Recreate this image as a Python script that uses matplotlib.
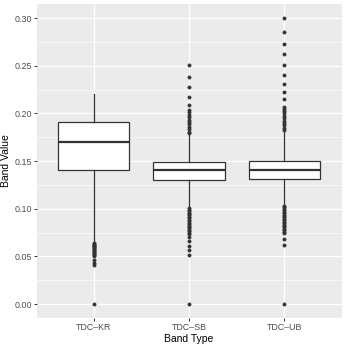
import matplotlib
matplotlib.use("Agg")
import matplotlib.pyplot as plt

categories = ["TDC\u2013KR", "TDC\u2013SB", "TDC\u2013UB"]
whisker_low = [0.0655, 0.1015, 0.1040]
q1 = [0.1405, 0.1300, 0.1312]
median = [0.1700, 0.1406, 0.1409]
q3 = [0.1912, 0.1493, 0.1500]
whisker_high = [0.2200, 0.1775, 0.1810]

fliers_kr = [0.0645, 0.0635, 0.0625, 0.0615, 0.0605, 0.0595, 0.0585, 0.0575, 0.0565,
             0.0555, 0.0545, 0.0535, 0.0525, 0.0515, 0.0505, 0.0460, 0.0430, 0.0410, 0.0]
fliers_sb = [0.2508, 0.2385, 0.2274, 0.2175, 0.2088, 0.2036, 0.2010, 0.1985, 0.1960,
             0.1935, 0.1910, 0.1885, 0.1860, 0.1835, 0.1810, 0.1790,
             0.1005, 0.0990, 0.0975, 0.0960, 0.0945, 0.0930, 0.0915, 0.0900, 0.0885,
             0.0870, 0.0855, 0.0840, 0.0825, 0.0810, 0.0795, 0.0780, 0.0765, 0.0750,
             0.0740, 0.0700, 0.0660, 0.0610, 0.0567, 0.0514, 0.0]
fliers_ub = [0.3004, 0.2857, 0.2731, 0.2620, 0.2504, 0.2400, 0.2312, 0.2228, 0.2148,
             0.2070, 0.2050, 0.2025, 0.2000, 0.1975, 0.1950, 0.1925, 0.1900, 0.1875,
             0.1850, 0.1825,
             0.1030, 0.1015, 0.1000, 0.0985, 0.0970, 0.0955, 0.0940, 0.0925, 0.0910,
             0.0895, 0.0880, 0.0865, 0.0850, 0.0835, 0.0820, 0.0805, 0.0790, 0.0775,
             0.0760, 0.0745, 0.0680, 0.0620, 0.0]
fliers = [fliers_kr, fliers_sb, fliers_ub]

y_ticks = [0.00, 0.05, 0.10, 0.15, 0.20, 0.25, 0.30]
y_minor = [0.025, 0.075, 0.125, 0.175, 0.225, 0.275]
y_tick_labels = ["0.00", "0.05", "0.10", "0.15", "0.20", "0.25", "0.30"]

plt.rcParams['font.family'] = ['Liberation Sans', 'DejaVu Sans']

fig = plt.figure(figsize=(3.46, 3.46), dpi=100)
ax = fig.add_axes([36.5/346, 1 - 318/346, (341.5 - 36.5)/346, (318 - 3.5)/346])
ax.set_facecolor("#EBEBEB")
for s in ax.spines.values():
    s.set_visible(False)

stats = []
for i in range(3):
    stats.append(dict(med=median[i], q1=q1[i], q3=q3[i], whislo=whisker_low[i],
                      whishi=whisker_high[i], fliers=fliers[i], label=categories[i]))

positions = [1, 2, 3]
ax.bxp(stats, positions=positions, widths=0.75, patch_artist=True, showcaps=False,
       boxprops=dict(facecolor="white", edgecolor="#333333", linewidth=0.9),
       medianprops=dict(color="#333333", linewidth=1.6),
       whiskerprops=dict(color="#333333", linewidth=0.9),
       flierprops=dict(marker="o", markerfacecolor="#333333", markeredgecolor="#333333",
                       markersize=2.3, markeredgewidth=0.5, linestyle="none"),
       zorder=3)

ax.set_xlim(0.4, 3.6)
ax.set_ylim(-0.0145, 0.3153)
ax.set_yticks(y_ticks)
ax.set_yticklabels(y_tick_labels)
ax.set_yticks(y_minor, minor=True)
ax.set_xticks(positions)
ax.set_xticklabels(categories)
ax.grid(True, which="major", color="white", linewidth=0.9, zorder=0)
ax.grid(True, which="minor", axis="y", color="white", linewidth=0.45, zorder=0)
ax.set_axisbelow(True)
ax.tick_params(axis="both", which="major", length=2.0, width=0.7, color="#333333",
               labelsize=6.4, labelcolor="#4D4D4D", pad=1.5)
ax.tick_params(axis="both", which="minor", length=0)
ax.set_xlabel("Band Type", fontsize=7.5, color="black", labelpad=1.5)
ax.set_ylabel("Band Value", fontsize=7.5, color="black", labelpad=2.5)

fig.savefig("out.png", dpi=100)
